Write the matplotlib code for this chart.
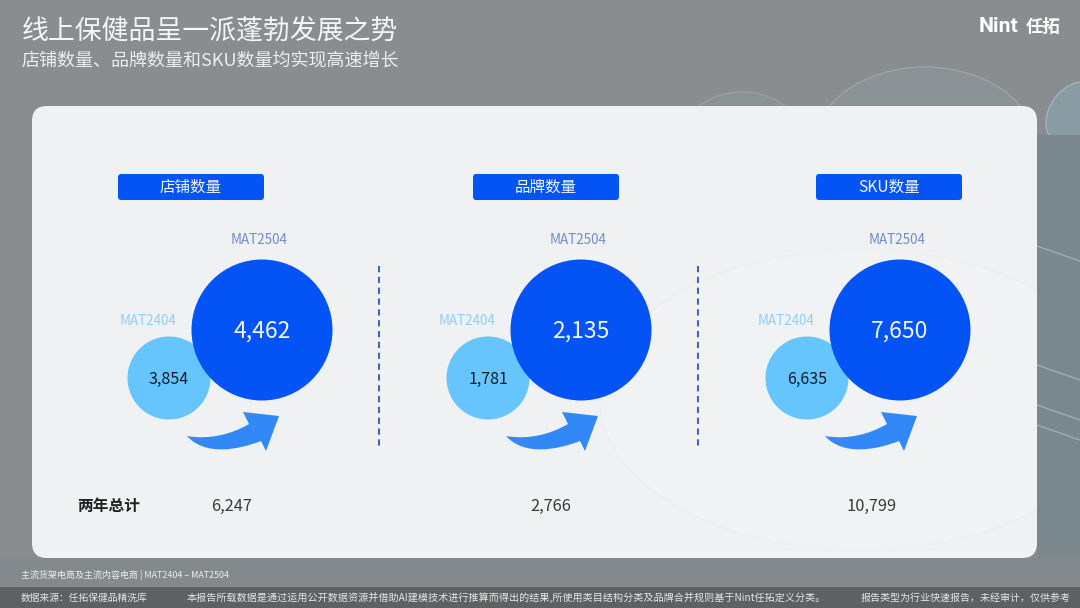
import matplotlib.pyplot as plt
from matplotlib.patches import Circle, Ellipse, FancyBboxPatch, PathPatch, Rectangle
from matplotlib.path import Path

plt.rcParams['font.family'] = ['Noto Sans CJK SC', 'DejaVu Sans']

# data
title = "线上保健品呈一派蓬勃发展之势"
subtitle = "店铺数量、品牌数量和SKU数量均实现高速增长"
panels = ["店铺数量", "品牌数量", "SKU数量"]
prev_period = "MAT2404"
curr_period = "MAT2504"
prev_values = ["3,854", "1,781", "6,635"]
curr_values = ["4,462", "2,135", "7,650"]
totals = ["6,247", "2,766", "10,799"]
total_label = "两年总计"
scope_note = "主流货架电商及主流内容电商 | MAT2404 – MAT2504"
source_note = "数据来源：任拓保健品精洗库"
method_note = "本报告所载数据是通过运用公开数据资源并借助AI建模技术进行推算而得出的结果,所使用类目结构分类及品牌合并规则基于Nint任拓定义分类。"
type_note = "报告类型为行业快速报告，未经审计，仅供参考"

BLUE = "#0353f5"
LIGHT = "#66c5fd"
ARROW = "#3388f8"

fig = plt.figure(figsize=(10.8, 6.08), dpi=100)
ax = fig.add_axes([0, 0, 1, 1])
ax.set_xlim(0, 1080)
ax.set_ylim(608, 0)
ax.axis("off")
fig.patch.set_facecolor("#898d8f")

# glass shapes behind the card
ax.add_patch(Ellipse((925, 150), 225, 166, fc="#8b9295", ec="#9aa4a7", lw=1, zorder=1))
ax.add_patch(Ellipse((742, 135), 116, 86, fc="#8b9295", ec="#969fa2", lw=1, zorder=1))
ax.add_patch(Ellipse((1072, 112), 44, 66, angle=35, fc="#8a9ca3", ec="#a4b3b8", lw=1, zorder=1))
ax.add_patch(Rectangle((1037, 135), 43, 452, fc="#7a888e", ec="none", zorder=1))
ax.add_patch(Rectangle((0, 558), 1080, 29, fc="#83898c", ec="none", zorder=1))
for y in [246, 365, 405, 425]:
    ax.plot([1037, 1080], [y, y + 15], color="#a2acb0", lw=1, zorder=1)

# card
card = FancyBboxPatch((32, 106), 1005, 452, boxstyle="round,pad=0,rounding_size=15",
                      fc="#eff1f3", ec="none", zorder=2)
ax.add_patch(card)
glass = Ellipse((860, 400), 520, 300, fc="#f0f2f3", ec="#ecEEef", lw=1, zorder=2)
ax.add_patch(glass)
glass.set_clip_path(card)

# footer band
ax.add_patch(Rectangle((0, 587), 1080, 21, fc="#5e6061", ec="none", zorder=2))

ax.text(22, 31.5, title, color="#f4f5f5", fontsize=19.4, fontweight="medium", va="center", ha="left", zorder=5)
ax.text(21, 60.5, subtitle, color="#eceeee", fontsize=13, va="center", ha="left", zorder=5)
ax.text(979, 26, "Nint", color="white", fontsize=15.2, fontweight="bold", va="center", ha="left", zorder=5,
        family="Roboto")
ax.text(1026, 26.5, "任拓", color="white", fontsize=12.5, fontweight="bold", va="center", ha="left", zorder=5)

# one arrow, shifted for each panel
arrow_verts = [(187, 436), (210, 440), (232, 434), (249, 424), (243, 412), (279, 416), (266, 451), (261, 441),
               (238, 450), (205, 456), (187, 436)]
arrow_codes = [Path.MOVETO, Path.CURVE4, Path.CURVE4, Path.CURVE4, Path.LINETO, Path.LINETO, Path.LINETO,
               Path.LINETO, Path.CURVE4, Path.CURVE4, Path.CURVE4]

label_x = [191, 546, 889]
for i, name in enumerate(panels):
    dx = 319 * i
    ax.add_patch(FancyBboxPatch((label_x[i] - 73, 174), 146, 26, boxstyle="round,pad=0,rounding_size=3",
                                fc=BLUE, ec="none", zorder=3))
    ax.text(label_x[i], 187.5, name, color="#f2f5fd", fontsize=11.2, ha="center", va="center", zorder=5)

    ax.text(259 + dx, 240, curr_period, color="#6f8fc6", fontsize=9.7, ha="center", va="center", zorder=5)
    ax.text(148 + dx, 321, prev_period, color="#8fd0fb", fontsize=9.7, ha="center", va="center", zorder=5)

    ax.add_patch(Circle((169 + dx, 378), 41.5, fc=LIGHT, ec="none", zorder=3))
    ax.add_patch(Circle((262 + dx, 330), 70.5, fc=BLUE, ec="none", zorder=4))
    ax.text(169 + dx, 379, prev_values[i], color="#0c1a2b", fontsize=11.5, ha="center", va="center", zorder=5)
    ax.text(262 + dx, 331, curr_values[i], color="#f2f5fd", fontsize=16.5, ha="center", va="center", zorder=5)

    verts = [(x + dx, y) for x, y in arrow_verts]
    ax.add_patch(PathPatch(Path(verts, arrow_codes), fc=ARROW, ec="none", zorder=3))

    ax.text(232 + dx + (2 if i == 2 else 0), 506, totals[i], color="#3a3a3a", fontsize=11.8, ha="center", va="center", zorder=5)

for x in [379, 698]:
    ax.plot([x, x], [266, 449], color="#3f68b8", lw=1.5, ls=(0, (3, 2.2)), zorder=3)

ax.text(109, 506, total_label, color="#222222", fontsize=11.3, fontweight="bold", ha="center", va="center", zorder=5)

ax.text(21, 575, scope_note, color="#eceeee", fontsize=6.45, va="center", ha="left", zorder=5)
ax.text(21, 598, source_note, color="#e6e6e6", fontsize=7, va="center", ha="left", zorder=5)
ax.text(187, 598, method_note, color="#e6e6e6", fontsize=7.25, va="center", ha="left", zorder=5)
ax.text(1071, 598, type_note, color="#e6e6e6", fontsize=7.2, va="center", ha="right", zorder=5)

fig.savefig("out.png", dpi=100)
